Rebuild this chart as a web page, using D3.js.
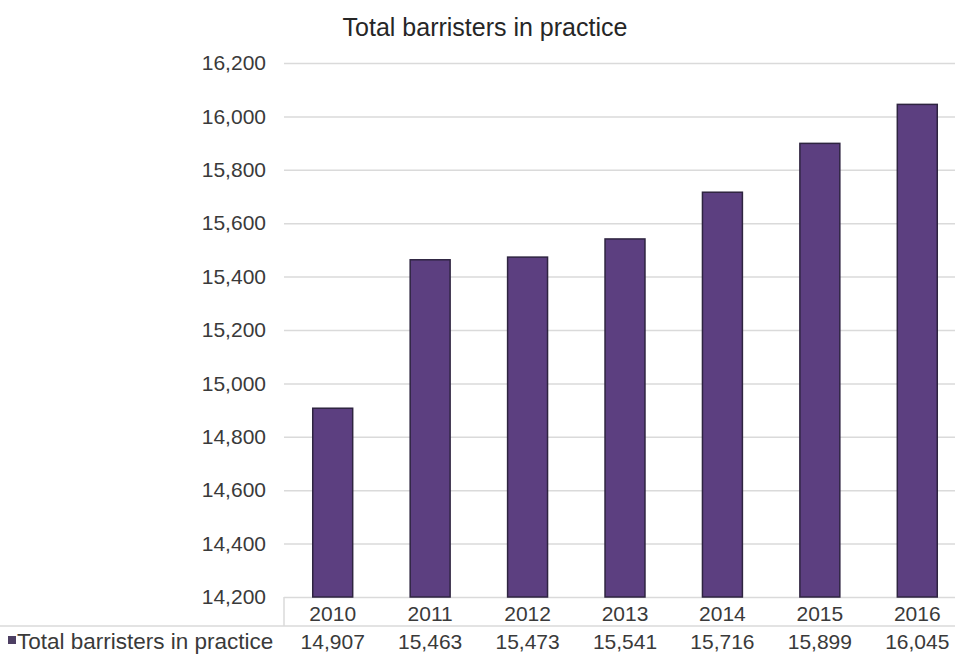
<!DOCTYPE html>
<html>
<head>
<meta charset="utf-8">
<script src="https://cdn.jsdelivr.net/npm/d3@7"></script>
<style>
  body { margin: 0; background: #fff; }
  svg { display: block; font-family: "Liberation Sans", Arial, sans-serif; }
</style>
</head>
<body>
<div id="chart"></div>
<script>
const years = ['2010', '2011', '2012', '2013', '2014', '2015', '2016'];
const barristers = [14907, 15463, 15473, 15541, 15716, 15899, 16045];
const yTicks = [14200, 14400, 14600, 14800, 15000, 15200, 15400, 15600, 15800, 16000, 16200];
const seriesName = 'Total barristers in practice';
const chartTitle = 'Total barristers in practice';

const W = 955, H = 654;
const plot = {left: 284, right: 966, top: 63, bottom: 597};

const svg = d3.select('#chart')
    .append('svg')
    .attr('width', W)
    .attr('height', H);

const x = d3.scaleBand()
    .domain(years)
    .range([plot.left, plot.right])
    .paddingInner(0.59)
    .paddingOuter(0.295);

const y = d3.scaleLinear()
    .domain([14200, 16200])
    .range([plot.bottom, plot.top]);

// gridlines + y labels
const yAxis = svg.append('g')
    .attr('transform', `translate(${plot.left},0)`)
    .call(d3.axisLeft(y).tickValues(yTicks).tickFormat(d3.format(',')).tickSize(-(plot.right - plot.left)).tickPadding(18));
yAxis.select('.domain').remove();
yAxis.selectAll('.tick line').attr('stroke', '#dadada').attr('stroke-width', 1.5);
yAxis.selectAll('.tick text')
    .attr('fill', '#3a3a3a')
    .style('font-size', '21px');

// bars
svg.append('g')
    .selectAll('rect')
    .data(barristers)
    .join('rect')
    .attr('x', (d, i) => x(years[i]))
    .attr('y', d => y(d))
    .attr('width', x.bandwidth())
    .attr('height', d => y(14200) - y(d))
    .attr('fill', '#5c3f80')
    .attr('stroke', '#2e2440')
    .attr('stroke-width', 1.5);

// data table
const headerY = 626;
svg.append('line')
    .attr('x1', 0).attr('x2', plot.right)
    .attr('y1', headerY).attr('y2', headerY)
    .attr('stroke', '#dadada').attr('stroke-width', 1.5);
svg.append('line')
    .attr('x1', plot.left).attr('x2', plot.left)
    .attr('y1', plot.bottom).attr('y2', headerY)
    .attr('stroke', '#dadada').attr('stroke-width', 1.5);

const xAxis = svg.append('g')
    .attr('transform', `translate(0,${plot.bottom})`)
    .call(d3.axisBottom(x).tickSize(0).tickPadding(9));
xAxis.select('.domain').remove();
xAxis.selectAll('.tick text')
    .attr('fill', '#3a3a3a')
    .style('font-size', '21px');

svg.append('g')
    .selectAll('text')
    .data(barristers)
    .join('text')
    .attr('x', (d, i) => x(years[i]) + x.bandwidth() / 2)
    .attr('y', 649)
    .attr('text-anchor', 'middle')
    .attr('fill', '#3a3a3a')
    .style('font-size', '21px')
    .text(d => d3.format(',')(d));

// legend key in table
svg.append('rect')
    .attr('x', 8).attr('y', 636)
    .attr('width', 8).attr('height', 8)
    .attr('fill', '#4d3f63');
svg.append('text')
    .attr('x', 17).attr('y', 649)
    .attr('fill', '#3a3a3a')
    .style('font-size', '22.5px')
    .text(seriesName);

// title
svg.append('text')
    .attr('x', 485).attr('y', 36)
    .attr('text-anchor', 'middle')
    .attr('fill', '#262626')
    .style('font-size', '25px')
    .text(chartTitle);
</script>
</body>
</html>
